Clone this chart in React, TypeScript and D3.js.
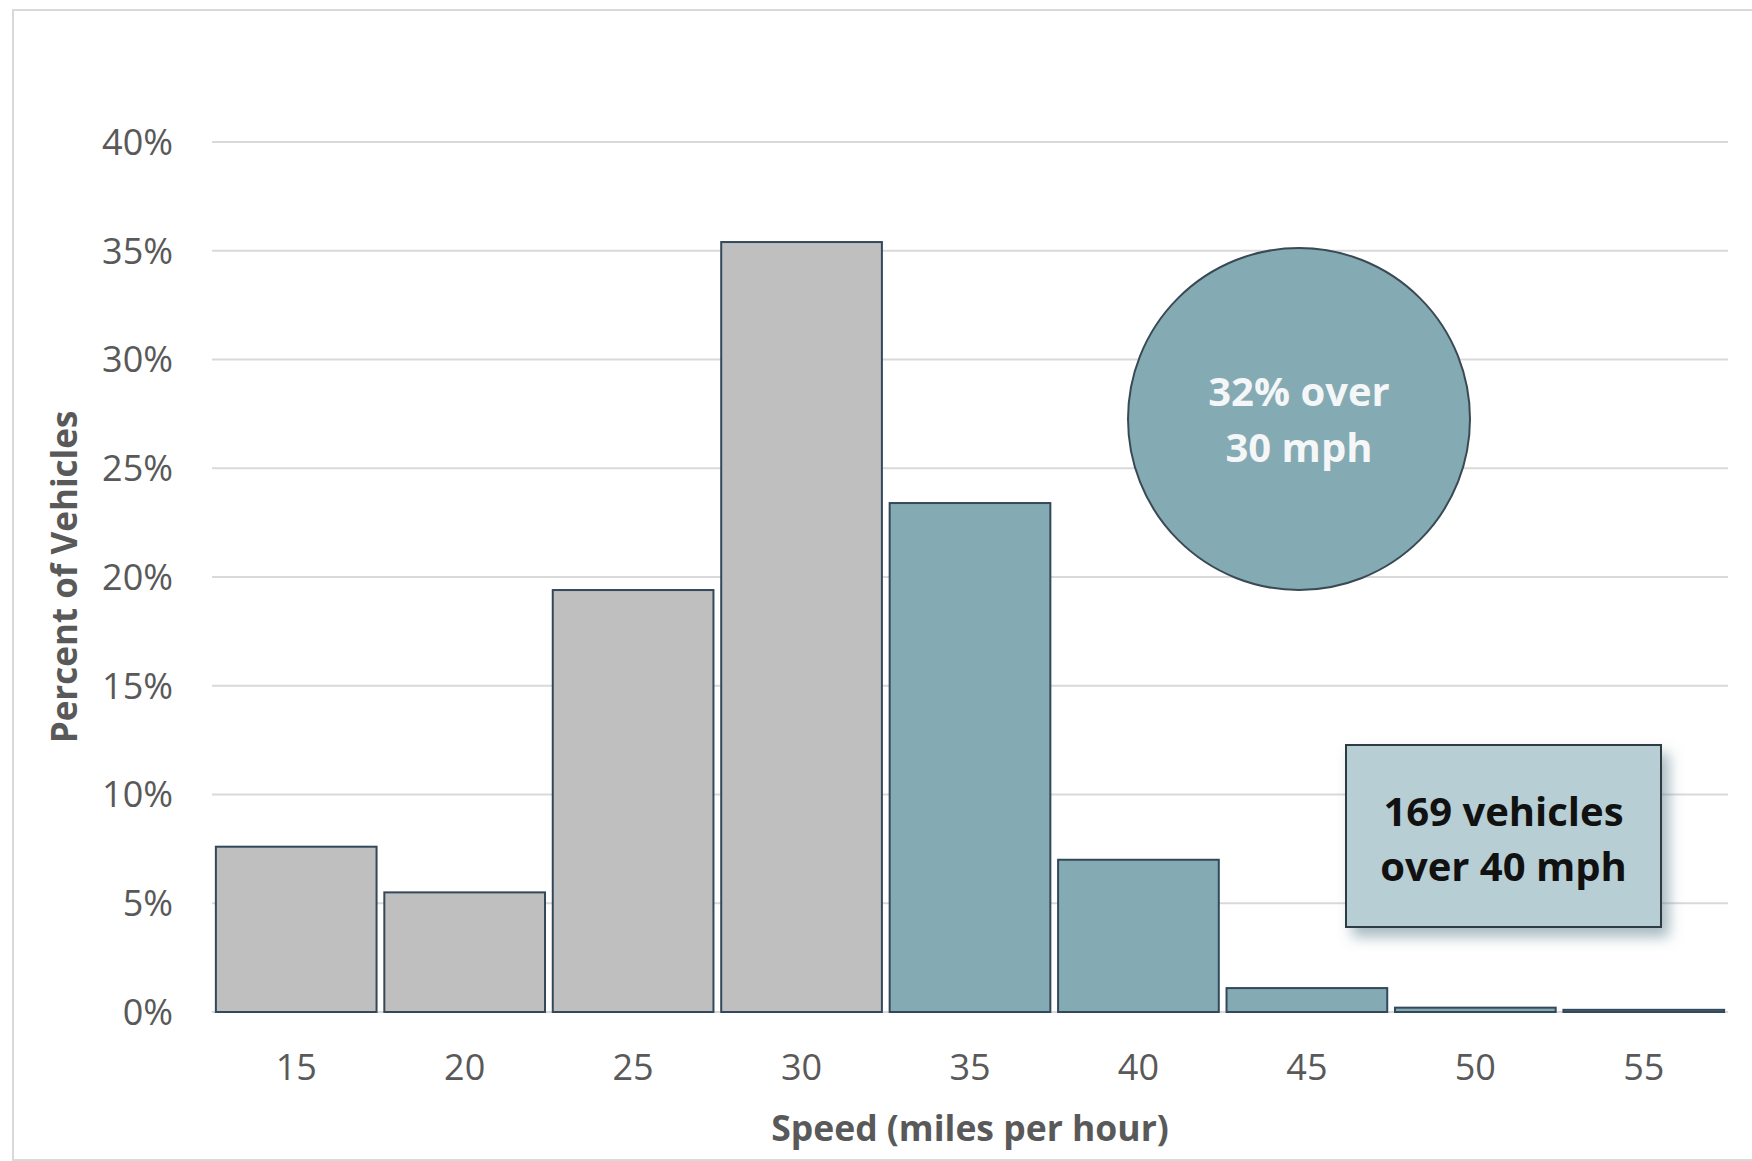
import React from "react";
import * as d3 from "d3";

const speeds = ["15", "20", "25", "30", "35", "40", "45", "50", "55"];
const percents = [7.6, 5.5, 19.4, 35.4, 23.4, 7.0, 1.1, 0.2, 0.1];
const overLimit = [false, false, false, false, true, true, true, true, true];
const yTicks = [0, 5, 10, 15, 20, 25, 30, 35, 40];
const circleLines = ["32% over", "30 mph"];
const boxLines = ["169 vehicles", "over 40 mph"];

const W = 1752;
const H = 1161;
const FONT = "'Open Sans', 'Liberation Sans', sans-serif";

export default function App() {
  const x = d3
    .scaleBand<string>()
    .domain(speeds)
    .range([212, 1728])
    .paddingInner(0.046)
    .paddingOuter(0.023);
  const y = d3.scaleLinear().domain([0, 40]).range([1012, 142]);

  const cx = 1299;
  const cy = 419;
  const r = 171;

  const bx = 1346;
  const by = 745;
  const bw = 315;
  const bh = 182;

  return (
    <svg
      width={W}
      height={H}
      style={{ position: "absolute", left: 0, top: 0, background: "#fff" }}
      fontFamily={FONT}
    >
      <defs>
        <filter id="shadow" x="-20%" y="-20%" width="150%" height="160%">
          <feDropShadow dx="7" dy="9" stdDeviation="7" floodColor="#5f7f8c" floodOpacity="0.55" />
        </filter>
      </defs>
      <rect x={13} y={10} width={W + 20} height={1150} fill="#fff" stroke="#d9d9d9" strokeWidth={2} />

      {yTicks.map((t) => (
        <g key={t}>
          <line x1={212} x2={1728} y1={y(t)} y2={y(t)} stroke="#d9d9d9" strokeWidth={2} />
          <text
            x={173}
            y={y(t)}
            dy="0.36em"
            textAnchor="end"
            fontSize={36}
            fill="#595959"
          >
            {t}%
          </text>
        </g>
      ))}

      {speeds.map((s, i) => (
        <rect
          key={s}
          x={x(s)}
          y={y(percents[i])}
          width={x.bandwidth()}
          height={y(0) - y(percents[i])}
          fill={overLimit[i] ? "#84aab3" : "#bfbfbf"}
          stroke="#33485a"
          strokeWidth={2}
        />
      ))}

      {speeds.map((s) => (
        <text
          key={s}
          x={(x(s) as number) + x.bandwidth() / 2}
          y={1080}
          textAnchor="middle"
          fontSize={36}
          fill="#595959"
        >
          {s}
        </text>
      ))}

      <text
        x={970}
        y={1141}
        textAnchor="middle"
        fontSize={35.5}
        fontWeight="bold"
        fill="#595959"
      >
        Speed (miles per hour)
      </text>
      <text
        transform={`translate(77, 577) rotate(-90)`}
        textAnchor="middle"
        fontSize={35}
        fontWeight="bold"
        fill="#595959"
      >
        Percent of Vehicles
      </text>

      <circle cx={cx} cy={cy} r={r} fill="#84aab3" stroke="#3a4a55" strokeWidth={2} />
      {circleLines.map((l, i) => (
        <text
          key={l}
          x={cx}
          y={cy - 27 + i * 56}
          dy="0.36em"
          textAnchor="middle"
          fontSize={40}
          fontWeight="bold"
          fill="#f4f6f7"
        >
          {l}
        </text>
      ))}

      <rect
        x={bx}
        y={by}
        width={bw}
        height={bh}
        fill="#b7ced5"
        stroke="#2e3a40"
        strokeWidth={2}
        filter="url(#shadow)"
      />
      {boxLines.map((l, i) => (
        <text
          key={l}
          x={bx + bw / 2}
          y={812 + i * 55}
          dy="0.36em"
          textAnchor="middle"
          fontSize={40}
          fontWeight="bold"
          fill="#111"
        >
          {l}
        </text>
      ))}
    </svg>
  );
}
